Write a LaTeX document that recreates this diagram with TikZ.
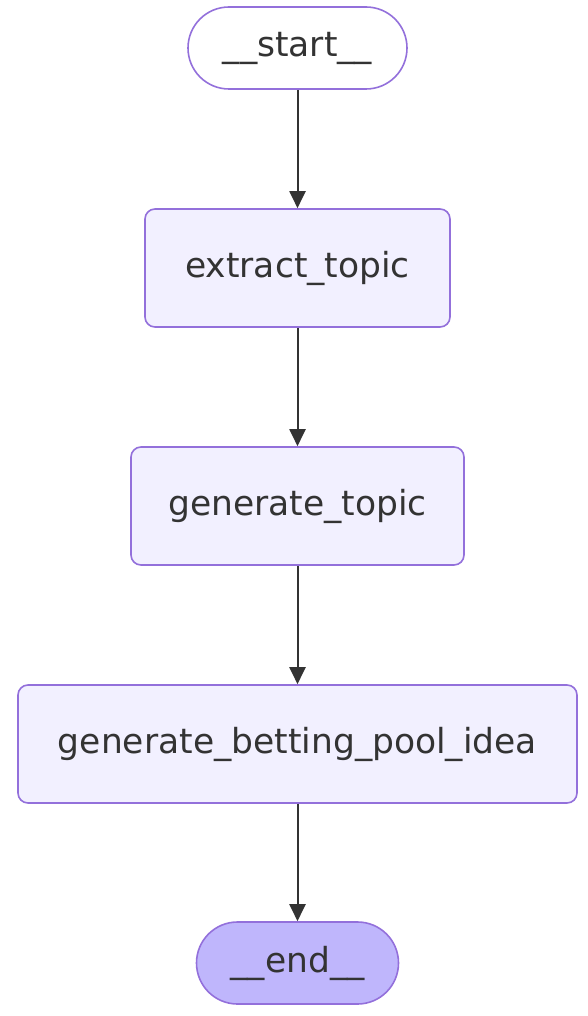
\documentclass[tikz,border=0pt]{standalone}
\usepackage{fontspec}
\setmainfont{DejaVu Sans}
\usetikzlibrary{arrows.meta}
\definecolor{nodeborder}{HTML}{9370DB}
\definecolor{nodefill}{HTML}{F2F0FF}
\definecolor{endfill}{HTML}{BFB6FC}
\definecolor{txt}{HTML}{333333}
\definecolor{edge}{HTML}{333333}
\tikzset{
  box/.style={draw=nodeborder, line width=1.6pt, fill=nodefill, rounded corners=10pt,
    minimum height=118pt, inner sep=0pt, text=txt, font=\fontsize{34.5}{40}\selectfont},
  pill/.style={draw=nodeborder, line width=1.6pt, rounded corners=41pt,
    minimum height=82pt, inner sep=0pt, text=txt, font=\fontsize{34.5}{40}\selectfont},
  flow/.style={draw=edge, line width=2pt, -{Triangle[length=17pt,width=16pt]}}
}
\begin{document}
\begin{tikzpicture}[x=1pt,y=-1pt]
\useasboundingbox (0,0) rectangle (588,1016);
\node[pill, fill=white, minimum width=219pt] (start) at (297.5,48) {\_\_start\_\_};
\node[box, minimum width=305pt] (extract) at (297.5,268) {extract\_topic};
\node[box, minimum width=333pt] (gentopic) at (297.5,506) {generate\_topic};
\node[box, minimum width=559pt] (betting) at (297.5,744) {generate\_betting\_pool\_idea};
\node[pill, fill=endfill, minimum width=202pt] (end) at (297.5,963) {\_\_end\_\_};
\draw[flow] (start.south) -- (extract.north);
\draw[flow] (extract.south) -- (gentopic.north);
\draw[flow] (gentopic.south) -- (betting.north);
\draw[flow] (betting.south) -- (end.north);
\end{tikzpicture}
\end{document}
